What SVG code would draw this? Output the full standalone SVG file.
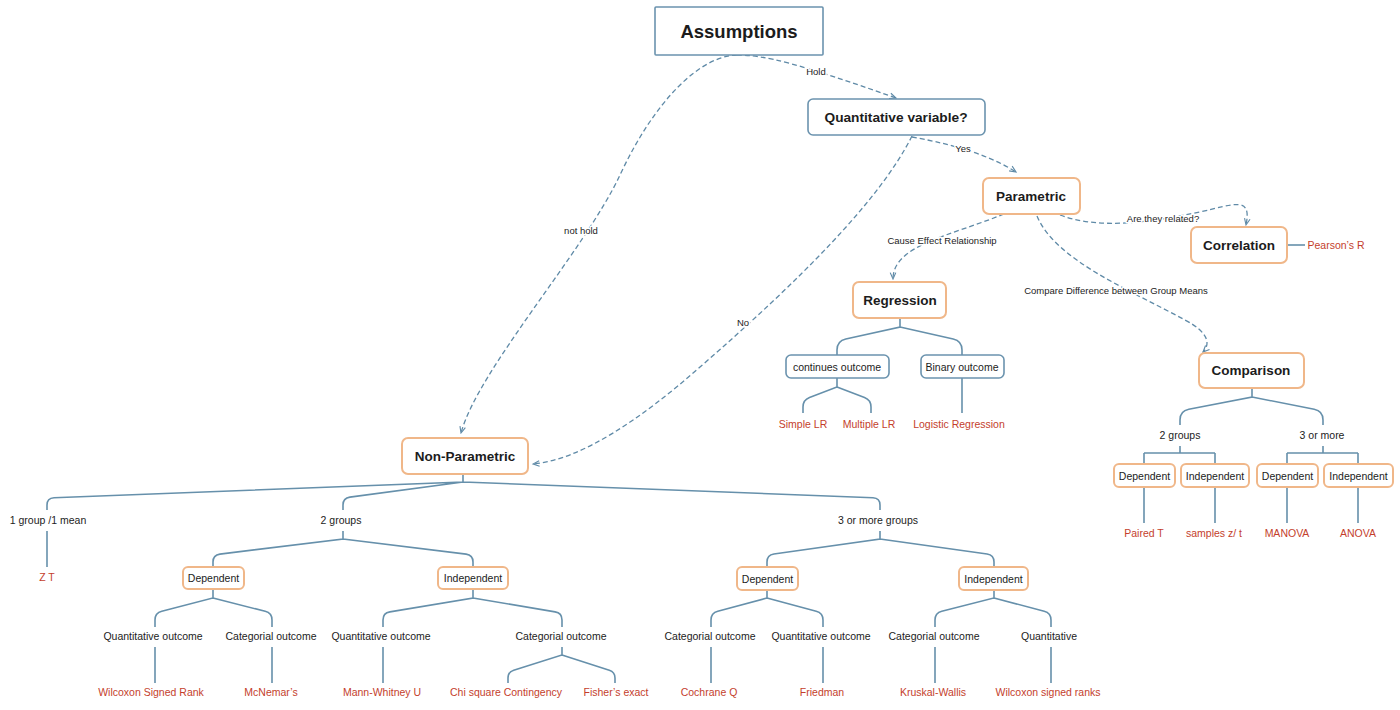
<svg xmlns="http://www.w3.org/2000/svg" width="1400" height="710" viewBox="0 0 1400 710">
<defs>
<marker id="arr" viewBox="0 0 10 10" refX="9" refY="5" markerWidth="8" markerHeight="8" markerUnits="userSpaceOnUse" orient="auto">
<path d="M1,1.5 L9,5 L1,8.5" fill="none" stroke="#5f8aa7" stroke-width="1.4"/>
</marker>
</defs>
<style>
text{font-family:"Liberation Sans",Arial,sans-serif;text-anchor:middle;dominant-baseline:central;fill:#1c1c1c}
.big{font-size:18.5px;font-weight:bold}
.main{font-size:13.5px;font-weight:bold}
.qv{font-size:13.7px;font-weight:bold}
.lbl{font-size:10.5px}
.edge{font-size:9.5px;stroke:#fff;stroke-width:3;paint-order:stroke;stroke-linejoin:round}
.leaf{font-size:10.5px;fill:#c43e2c}
.bb{fill:#fff;stroke:#6b93ae;stroke-width:1.6}
.ob{fill:#fff;stroke:#f0b789;stroke-width:2}
.dash{fill:none;stroke:#5f8aa7;stroke-width:1.3;stroke-dasharray:5 3;marker-end:url(#arr)}
.tree{fill:none;stroke:#6690ab;stroke-width:1.6}
</style>
<rect width="1400" height="710" fill="#fff"/>

<g id="connectors">
<path class="dash" d="M737 55 C765 55,800 64,896 98"/>
<path class="dash" d="M737 55 C700 56,655 100,620 175 C585 250,478 370,461 433"/>
<path class="dash" d="M912 136 C880 200,800 280,700 367 C640 420,580 460,533 464"/>
<path class="dash" d="M912 137 C940 142,985 152,1016 172"/>
<path class="dash" d="M1004 214 C950 236,893 245,893 279"/>
<path class="dash" d="M1037 216 C1055 260,1130 290,1185 320 C1210 333,1210 345,1203 352"/>
<path class="dash" d="M1060 215 C1100 230,1150 222,1200 212 C1235 204,1252 196,1246 225"/>
<text class="edge" x="816" y="71">Hold</text>
<text class="edge" x="963" y="148">Yes</text>
<text class="edge" x="581" y="230">not hold</text>
<text class="edge" x="743" y="322">No</text>
<text class="edge" x="942" y="240">Cause Effect Relationship</text>
<text class="edge" x="1116" y="290">Compare Difference between Group Means</text>
<text class="edge" x="1163" y="218">Are they related?</text>

<path class="tree" d="M1287 245 H1305"/>
<path class="tree" d="M900 318 V327 L845.8 339 Q837 341 837 350 V355 M900 327 L953.2 339 Q962 341 962 350 V355"/>
<path class="tree" d="M837 378 V387 L809.5 397.5 Q803 400 803 407 V413 M837 387 L864.5 397.5 Q871 400 871 407 V413"/>
<path class="tree" d="M962 378 V413"/>
<path class="tree" d="M1252 388 V397 L1188.8 409.3 Q1180 411 1180 420 V425 M1252 397 L1314.2 409.3 Q1323 411 1323 420 V425"/>
<path class="tree" d="M1180 446 V453 M1144 453 H1215 M1144 453 V464 M1215 453 V464"/>
<path class="tree" d="M1323 446 V453 M1287 453 H1358 M1287 453 V464 M1358 453 V464"/>
<path class="tree" d="M1144 487 V523 M1215 487 V523 M1287 487 V523 M1358 487 V523"/>
<path class="tree" d="M463 474 V482 L54 497.7 Q47 498 47 505 V510 M463 482 L349.9 497.1 Q343 498 343 505 V510 M463 482 L873 497.7 Q880 498 880 505 V510"/>
<path class="tree" d="M47 531 V567"/>
<path class="tree" d="M343 531 V539 L219.9 554.1 Q213 555 213 562 V567 M343 539 L466.1 554.1 Q473 555 473 562 V567"/>
<path class="tree" d="M213 589 V598 L161.8 611.3 Q155 613 155 620 V627 M213 598 L265.2 611.3 Q272 613 272 620 V627"/>
<path class="tree" d="M155 647 V683 M272 647 V683"/>
<path class="tree" d="M473 589 V598 L389.9 611.9 Q383 613 383 620 V627 M473 598 L555.1 611.9 Q562 613 562 620 V627"/>
<path class="tree" d="M383 647 V683"/>
<path class="tree" d="M562 647 V655 L513.7 670.2 Q508 672 508 678 V683 M562 655 L609.3 670.2 Q615 672 615 678 V683"/>
<path class="tree" d="M880 531 V539 L773.9 554 Q767 555 767 562 V567 M880 539 L987.1 554 Q994 555 994 562 V567"/>
<path class="tree" d="M767 590 V598 L717.8 611.2 Q711 613 711 620 V627 M767 598 L816.2 611.2 Q823 613 823 620 V627"/>
<path class="tree" d="M711 647 V683 M823 647 V683"/>
<path class="tree" d="M994 590 V598 L941.8 611.2 Q935 613 935 620 V627 M994 598 L1044.2 611.2 Q1051 613 1051 620 V627"/>
<path class="tree" d="M935 647 V683 M1051 647 V683"/>
</g>

<g id="assumptions"><rect class="bb" x="655" y="7" width="168" height="48" rx="1"/><text class="big" x="739" y="31">Assumptions</text></g>
<g id="quantitative-variable"><rect class="bb" x="808" y="99" width="177" height="36" rx="5"/><text class="qv" x="896" y="117">Quantitative variable?</text></g>
<g id="parametric"><rect class="ob" x="983" y="178" width="97" height="36" rx="6"/><text class="main" x="1031" y="196">Parametric</text></g>
<g id="correlation"><rect class="ob" x="1191" y="227" width="96" height="36" rx="6"/><text class="main" x="1239" y="245">Correlation</text></g>
<g id="pearsons-r"><text class="leaf" x="1336" y="245">Pearson’s R</text></g>
<g id="regression"><rect class="ob" x="853" y="282" width="93" height="36" rx="6"/><text class="main" x="900" y="300">Regression</text></g>
<g id="comparison"><rect class="ob" x="1199" y="353" width="105" height="35" rx="6"/><text class="main" x="1251" y="370">Comparison</text></g>
<g id="non-parametric"><rect class="ob" x="402" y="438" width="126" height="36" rx="6"/><text class="main" x="465" y="456">Non-Parametric</text></g>

<g id="continues-outcome"><rect class="bb" x="786" y="355" width="103" height="23" rx="5"/><text class="lbl" x="837" y="366.5">continues outcome</text></g>
<g id="binary-outcome"><rect class="bb" x="921" y="355" width="83" height="23" rx="5"/><text class="lbl" x="962" y="366.5">Binary outcome</text></g>
<g id="simple-lr"><text class="leaf" x="803" y="424">Simple LR</text></g>
<g id="multiple-lr"><text class="leaf" x="869" y="424">Multiple LR</text></g>
<g id="logistic-regression"><text class="leaf" x="959" y="424">Logistic Regression</text></g>

<g id="cmp-2groups"><text class="lbl" x="1180" y="435">2 groups</text></g>
<g id="cmp-3more"><text class="lbl" x="1322" y="435">3 or more</text></g>
<g id="cmp-dep1"><rect class="ob" x="1114" y="464" width="61" height="23" rx="5"/><text class="lbl" x="1144.5" y="475.5">Dependent</text></g>
<g id="cmp-ind1"><rect class="ob" x="1181" y="464" width="68" height="23" rx="5"/><text class="lbl" x="1215" y="475.5">Independent</text></g>
<g id="cmp-dep2"><rect class="ob" x="1257" y="464" width="61" height="23" rx="5"/><text class="lbl" x="1287.5" y="475.5">Dependent</text></g>
<g id="cmp-ind2"><rect class="ob" x="1324" y="464" width="69" height="23" rx="5"/><text class="lbl" x="1358.5" y="475.5">Independent</text></g>
<g id="paired-t"><text class="leaf" x="1144" y="533">Paired T</text></g>
<g id="samples-zt"><text class="leaf" x="1214" y="533">samples z/ t</text></g>
<g id="manova"><text class="leaf" x="1287" y="533">MANOVA</text></g>
<g id="anova"><text class="leaf" x="1358" y="533">ANOVA</text></g>

<g id="np-1group"><text class="lbl" x="48" y="520">1 group /1 mean</text></g>
<g id="np-2groups"><text class="lbl" x="341" y="520">2 groups</text></g>
<g id="np-3groups"><text class="lbl" x="878" y="520">3 or more groups</text></g>
<g id="z-t"><text class="leaf" x="47" y="577">Z T</text></g>

<g id="np-dep1"><rect class="ob" x="183" y="567" width="61" height="22" rx="5"/><text class="lbl" x="213.5" y="578">Dependent</text></g>
<g id="np-ind1"><rect class="ob" x="438" y="567" width="70" height="22" rx="5"/><text class="lbl" x="473" y="578">Independent</text></g>
<g id="np-dep2"><rect class="ob" x="737" y="567" width="61" height="23" rx="5"/><text class="lbl" x="767.5" y="578.5">Dependent</text></g>
<g id="np-ind2"><rect class="ob" x="959" y="567" width="69" height="23" rx="5"/><text class="lbl" x="993.5" y="578.5">Independent</text></g>

<g id="o1"><text class="lbl" x="153" y="636">Quantitative outcome</text></g>
<g id="o2"><text class="lbl" x="271" y="636">Categorial outcome</text></g>
<g id="o3"><text class="lbl" x="381" y="636">Quantitative outcome</text></g>
<g id="o4"><text class="lbl" x="561" y="636">Categorial outcome</text></g>
<g id="o5"><text class="lbl" x="710" y="636">Categorial outcome</text></g>
<g id="o6"><text class="lbl" x="821" y="636">Quantitative outcome</text></g>
<g id="o7"><text class="lbl" x="934" y="636">Categorial outcome</text></g>
<g id="o8"><text class="lbl" x="1049" y="636">Quantitative</text></g>

<g id="l1"><text class="leaf" x="151" y="692">Wilcoxon Signed Rank</text></g>
<g id="l2"><text class="leaf" x="271" y="692">McNemar’s</text></g>
<g id="l3"><text class="leaf" x="382" y="692">Mann-Whitney U</text></g>
<g id="l4"><text class="leaf" x="506" y="692">Chi square Contingency</text></g>
<g id="l5"><text class="leaf" x="616" y="692">Fisher’s exact</text></g>
<g id="l6"><text class="leaf" x="709" y="692">Cochrane Q</text></g>
<g id="l7"><text class="leaf" x="822" y="692">Friedman</text></g>
<g id="l8"><text class="leaf" x="933" y="692">Kruskal-Wallis</text></g>
<g id="l9"><text class="leaf" x="1048" y="692">Wilcoxon signed ranks</text></g>
</svg>
